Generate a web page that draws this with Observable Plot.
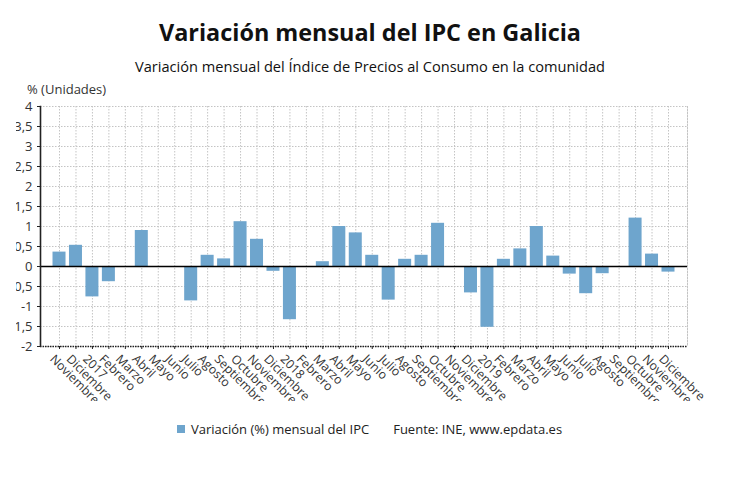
<!DOCTYPE html>
<html>
<head>
<meta charset="utf-8">
<script src="https://cdn.jsdelivr.net/npm/d3@7"></script>
<script src="https://cdn.jsdelivr.net/npm/@observablehq/plot@0.6"></script>
<style>
  html, body { margin: 0; padding: 0; background: #fff; }
  body { width: 740px; height: 499px; position: relative; overflow: hidden; font-family: "Open Sans", sans-serif; color: #111; }
  .abs { position: absolute; white-space: nowrap; }
  #title { left: 0; width: 740px; text-align: center; top: 16px; font-size: 23.4px; font-weight: 700; color: #111; }
  #subtitle { left: 0; width: 740px; text-align: center; top: 56px; font-size: 14.6px; color: #111; }
  #ylabel { left: 27px; top: 80px; font-size: 13px; color: #333; }
  #chart { left: 16px; top: 80px; }
  #legend { left: 177px; top: 420px; font-size: 13px; color: #222; display: flex; align-items: center; }
  #legend .sw { width: 8px; height: 8px; background: #6ea5cd; margin-right: 6px; }
  #legend .src { margin-left: 24px; }
</style>
</head>
<body>
<div id="title" class="abs">Variación mensual del IPC en Galicia</div>
<div id="subtitle" class="abs">Variación mensual del Índice de Precios al Consumo en la comunidad</div>
<div id="ylabel" class="abs">% (Unidades)</div>
<div id="chart" class="abs"></div>
<div id="legend" class="abs"><span class="sw"></span><span>Variación (%) mensual del IPC</span><span class="src">Fuente: INE, www.epdata.es</span></div>
<script>
const months = [
  "2016-11","2016-12",
  "2017-01","2017-02","2017-03","2017-04","2017-05","2017-06","2017-07","2017-08","2017-09","2017-10","2017-11","2017-12",
  "2018-01","2018-02","2018-03","2018-04","2018-05","2018-06","2018-07","2018-08","2018-09","2018-10","2018-11","2018-12",
  "2019-01","2019-02","2019-03","2019-04","2019-05","2019-06","2019-07","2019-08","2019-09","2019-10","2019-11","2019-12"
];
const labels = [
  "Noviembre","Diciembre",
  "2017","Febrero","Marzo","Abril","Mayo","Junio","Julio","Agosto","Septiembre","Octubre","Noviembre","Diciembre",
  "2018","Febrero","Marzo","Abril","Mayo","Junio","Julio","Agosto","Septiembre","Octubre","Noviembre","Diciembre",
  "2019","Febrero","Marzo","Abril","Mayo","Junio","Julio","Agosto","Septiembre","Octubre","Noviembre","Diciembre"
];
const values = [
  0.36, 0.53,
  -0.76, -0.38, 0.0, 0.9, 0.0, 0.0, -0.86, 0.28, 0.19, 1.12, 0.68, -0.12,
  -1.33, 0.0, 0.12, 1.0, 0.84, 0.28, -0.84, 0.18, 0.28, 1.08, 0.0, -0.66,
  -1.52, 0.18, 0.44, 1.0, 0.26, -0.19, -0.68, -0.18, 0.0, 1.21, 0.31, -0.14
];
const yTicks = [-2, -1.5, -1, -0.5, 0, 0.5, 1, 1.5, 2, 2.5, 3, 3.5, 4];
const seriesName = "Variación (%) mensual del IPC";

const data = months.map((m, i) => ({month: m, label: labels[i], value: values[i]}));

const gridStyle = {stroke: "#c4c4c4", strokeOpacity: 1, strokeWidth: 1, strokeDasharray: "1.5,1.5"};

const chart = Plot.plot({
  width: 724,
  height: 321,
  marginLeft: 24,
  marginRight: 53,
  marginTop: 26,
  marginBottom: 55,
  style: {fontFamily: "Open Sans, sans-serif", fontSize: "13px", overflow: "hidden", background: "transparent", color: "#333"},
  x: {type: "band", domain: months, paddingInner: 0.21, paddingOuter: 0.76, align: 0.5, round: false, label: null},
  y: {domain: [-2, 4], ticks: yTicks, label: null},
  marks: [
    Plot.gridY(yTicks, gridStyle),
    Plot.gridX(gridStyle),
    Plot.frame({anchor: "right", ...gridStyle}),
    Plot.barY(data, {x: "month", y: "value", fill: "#6ea5cd"}),
    Plot.ruleY([0], {stroke: "#000", strokeWidth: 1.6}),
    Plot.ruleY([-2], {stroke: "#222", strokeWidth: 1.6, strokeDasharray: "1.5,1"}),
    Plot.frame({anchor: "left", stroke: "#222", strokeWidth: 1.6, strokeDasharray: "1.5,1"}),
    Plot.axisY(yTicks, {label: null, tickSize: 3, tickPadding: 5, fontSize: 13, fill: "#333", stroke: "#222", tickFormat: d => String(d).replace(".", ",")}),
    Plot.axisX({label: null, tickSize: 3, stroke: "#222", tickFormat: () => ""}),
    Plot.text(data, {x: "month", text: "label", frameAnchor: "bottom", rotate: 45, textAnchor: "start", lineAnchor: "middle", dx: -7.5, dy: 10.5, fontSize: 12.3, fill: "#333"})
  ]
});
document.getElementById("chart").appendChild(chart);
</script>
</body>
</html>
